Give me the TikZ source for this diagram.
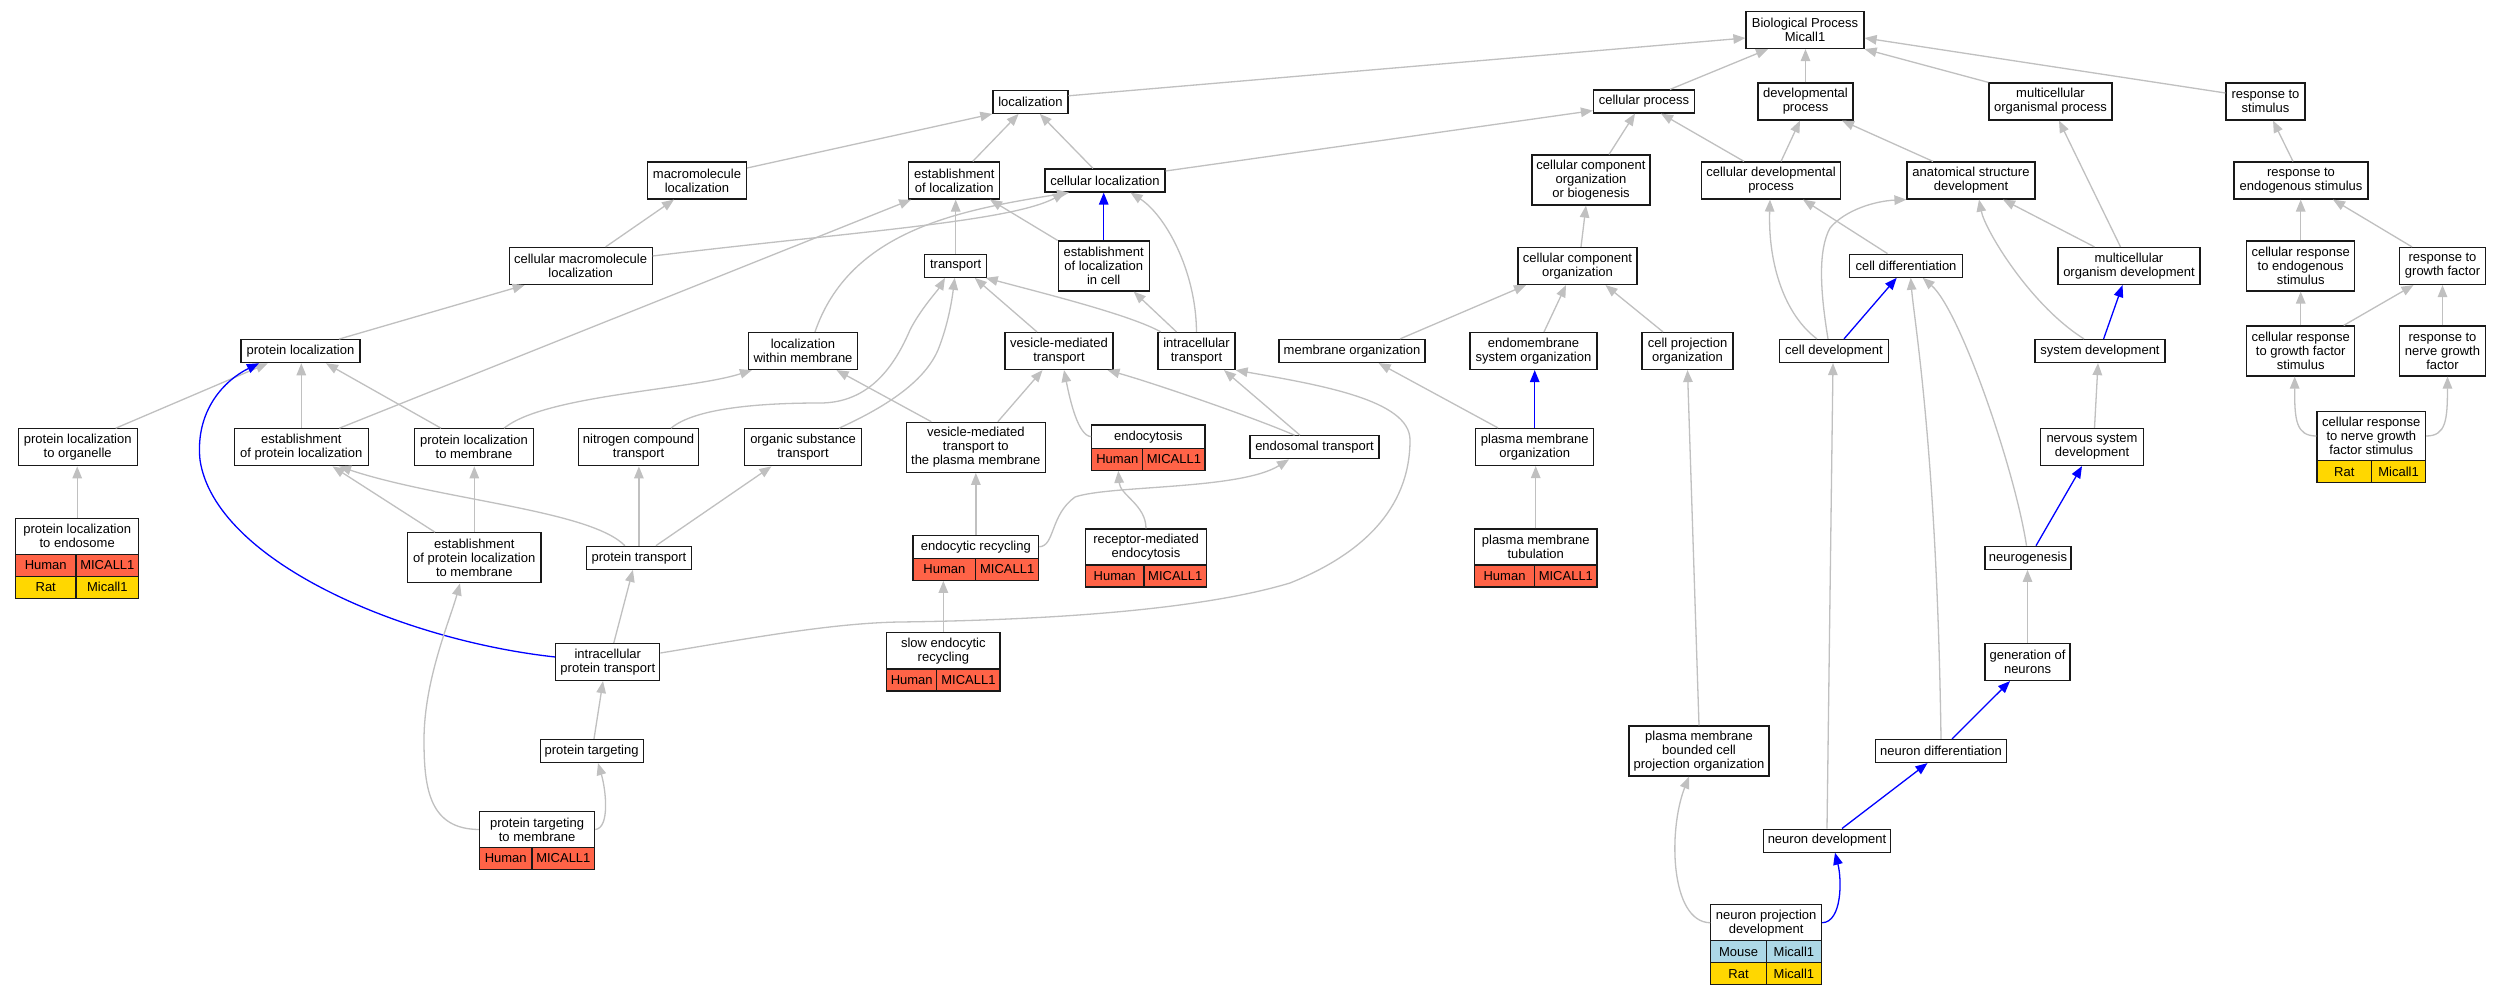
\documentclass[tikz,border=0pt]{standalone}
\usepackage{fontspec}
\setmainfont{Liberation Sans}
\usetikzlibrary{arrows.meta,calc}
\definecolor{edgegray}{RGB}{192,192,192}
\definecolor{tomatoc}{RGB}{255,99,71}
\definecolor{goldc}{RGB}{255,215,0}
\definecolor{lbluec}{RGB}{173,216,230}
\begin{document}
\begin{tikzpicture}[x=1pt,y=-1pt,
  box/.style={draw=black!90, line width=1.2pt, fill=white, inner sep=0pt, align=center, font=\fontsize{13}{14}\selectfont},
  hum/.style={box, fill=tomatoc, minimum height=22pt},
  ratc/.style={box, fill=goldc, minimum height=22pt},
  mouc/.style={box, fill=lbluec, minimum height=22pt},
  e/.style={draw=edgegray, line width=1.3pt, -{Triangle[length=12pt,width=9.5pt]}},
  be/.style={e, draw=blue},
]
\useasboundingbox (0,0) rectangle (2501,995);
\fill[white] (0,0) rectangle (2501,995);

% ---- plain nodes ----
\node[box, minimum width=118pt, minimum height=37pt] (bp) at (1805,30) {Biological Process\\Micall1};

\node[box, minimum width=75pt, minimum height=23pt] (loc) at (1030.4,101.8) {localization};
\node[box, minimum width=101pt, minimum height=23pt] (cp) at (1644,101.5) {cellular process};
\node[box, minimum width=95pt, minimum height=37pt] (dp) at (1805.5,101.5) {developmental\\process};
\node[box, minimum width=123pt, minimum height=37pt] (mop) at (2050.5,101.5) {multicellular\\organismal process};
\node[box, minimum width=79pt, minimum height=37pt] (rs) at (2265.5,101.5) {response to\\stimulus};

\node[box, minimum width=99pt, minimum height=37pt] (ml) at (697,180.5) {macromolecule\\localization};
\node[box, minimum width=91pt, minimum height=37pt] (eol) at (954.3,180.5) {establishment\\of localization};
\node[box, minimum width=120pt, minimum height=23pt] (cl) at (1105,180.5) {cellular localization};
\node[box, minimum width=118pt, minimum height=50pt] (ccob) at (1591,180) {cellular component\\organization\\or biogenesis};
\node[box, minimum width=139pt, minimum height=37pt] (cdp) at (1771,180.5) {cellular developmental\\process};
\node[box, minimum width=128pt, minimum height=37pt] (asd) at (1971,180.5) {anatomical structure\\development};
\node[box, minimum width=134pt, minimum height=37pt] (res) at (2301,180.5) {response to\\endogenous stimulus};

\node[box, minimum width=143pt, minimum height=37pt] (cml) at (580.6,266) {cellular macromolecule\\localization};
\node[box, minimum width=62pt, minimum height=23pt] (tr) at (955.7,265.8) {transport};
\node[box, minimum width=91pt, minimum height=50pt] (elc) at (1103.7,266) {establishment\\of localization\\in cell};
\node[box, minimum width=119pt, minimum height=37pt] (cco) at (1577.5,266) {cellular component\\organization};
\node[box, minimum width=113pt, minimum height=23pt] (cd) at (1906,265.7) {cell differentiation};
\node[box, minimum width=142pt, minimum height=37pt] (mod) at (2129,266) {multicellular\\organism development};
\node[box, minimum width=108pt, minimum height=50pt] (cres) at (2300.7,266) {cellular response\\to endogenous\\stimulus};
\node[box, minimum width=86pt, minimum height=37pt] (rgf) at (2442.5,266) {response to\\growth factor};

\node[box, minimum width=119pt, minimum height=23pt] (pl) at (300.5,351.2) {protein localization};
\node[box, minimum width=109pt, minimum height=37pt] (lwm) at (803,351) {localization\\within membrane};
\node[box, minimum width=108pt, minimum height=37pt] (vmt) at (1059,351) {vesicle-mediated\\transport};
\node[box, minimum width=77pt, minimum height=37pt] (it) at (1196.5,351) {intracellular\\transport};
\node[box, minimum width=146pt, minimum height=23pt] (mo) at (1352,351) {membrane organization};
\node[box, minimum width=127pt, minimum height=37pt] (eso) at (1533.5,351) {endomembrane\\system organization};
\node[box, minimum width=91pt, minimum height=37pt] (cpo) at (1687.5,351) {cell projection\\organization};
\node[box, minimum width=109pt, minimum height=23pt] (cdv) at (1834,351) {cell development};
\node[box, minimum width=130pt, minimum height=23pt] (sd) at (2100,351) {system development};
\node[box, minimum width=108pt, minimum height=50pt] (crgf) at (2300.7,351) {cellular response\\to growth factor\\stimulus};
\node[box, minimum width=86pt, minimum height=50pt] (rngf) at (2442.5,351) {response to\\nerve growth\\factor};

\node[box, minimum width=119pt, minimum height=37pt] (plo) at (77.7,447.3) {protein localization\\to organelle};
\node[box, minimum width=134pt, minimum height=37pt] (epl) at (301.3,447.3) {establishment\\of protein localization};
\node[box, minimum width=119pt, minimum height=37pt] (plm) at (474,447.3) {protein localization\\to membrane};
\node[box, minimum width=120pt, minimum height=37pt] (nct) at (638.6,447.3) {nitrogen compound\\transport};
\node[box, minimum width=116.5pt, minimum height=37pt] (ost) at (803,447.3) {organic substance\\transport};
\node[box, minimum width=139pt, minimum height=50pt] (vmtpm) at (975.8,447.3) {vesicle-mediated\\transport to\\the plasma membrane};
\node[box, minimum width=129pt, minimum height=23pt] (est) at (1314.5,447.3) {endosomal transport};
\node[box, minimum width=118pt, minimum height=37pt] (pmo) at (1534.7,447) {plasma membrane\\organization};
\node[box, minimum width=103pt, minimum height=37pt] (nsd) at (2092,447) {nervous system\\development};

\node[box, minimum width=133.5pt, minimum height=50pt] (eplm) at (474.3,557.8) {establishment\\of protein localization\\to membrane};
\node[box, minimum width=104.6pt, minimum height=23pt] (pt) at (638.9,557.8) {protein transport};
\node[box, minimum width=86pt, minimum height=23pt] (ng) at (2028,557.8) {neurogenesis};

\node[box, minimum width=104pt, minimum height=37pt] (ipt) at (607.8,662) {intracellular\\protein transport};
\node[box, minimum width=85pt, minimum height=37pt] (gon) at (2027.5,662) {generation of\\neurons};

\node[box, minimum width=103pt, minimum height=23pt] (ptg) at (591.6,751) {protein targeting};
\node[box, minimum width=140pt, minimum height=50pt] (pbcpo) at (1699,751) {plasma membrane\\bounded cell\\projection organization};
\node[box, minimum width=130.5pt, minimum height=23pt] (nd) at (1941,751) {neuron differentiation};

\node[box, minimum width=127pt, minimum height=23pt] (ndv) at (1827,840.6) {neuron development};

% ---- table nodes ----
\node[box, minimum width=123.2pt, minimum height=36pt] (ple) at (77.2,536.3) {protein localization\\to endosome};
\node[hum, minimum width=60.3pt] (pleA) at (45.75,565.3) {Human};
\node[hum, minimum width=62.9pt] (pleB) at (107.35,565.3) {MICALL1};
\node[ratc, minimum width=60.3pt] (pleC) at (45.75,587.3) {Rat};
\node[ratc, minimum width=62.9pt] (pleD) at (107.35,587.3) {Micall1};

\node[box, minimum width=113.2pt, minimum height=23.3pt] (endo) at (1148.4,436.65) {endocytosis};
\node[hum, minimum width=51pt] (endoA) at (1117.3,459.3) {Human};
\node[hum, minimum width=62.2pt] (endoB) at (1173.9,459.3) {MICALL1};

\node[box, minimum width=125.7pt, minimum height=23pt] (erc) at (975.85,546.8) {endocytic recycling};
\node[hum, minimum width=62.8pt] (ercA) at (944.4,569.3) {Human};
\node[hum, minimum width=62.9pt] (ercB) at (1007.25,569.3) {MICALL1};

\node[box, minimum width=121.4pt, minimum height=36pt] (rme) at (1146,547) {receptor-mediated\\endocytosis};
\node[hum, minimum width=58.6pt] (rmeA) at (1114.6,576) {Human};
\node[hum, minimum width=62.8pt] (rmeB) at (1175.3,576) {MICALL1};

\node[box, minimum width=122.6pt, minimum height=36pt] (pmt) at (1535.7,547) {plasma membrane\\tubulation};
\node[hum, minimum width=60.3pt] (pmtA) at (1504.55,576) {Human};
\node[hum, minimum width=62.3pt] (pmtB) at (1565.85,576) {MICALL1};

\node[box, minimum width=113.3pt, minimum height=36.3pt] (ser) at (943.35,650.85) {slow endocytic\\recycling};
\node[hum, minimum width=50.1pt] (serA) at (911.75,680) {Human};
\node[hum, minimum width=63.2pt] (serB) at (968.4,680) {MICALL1};

\node[box, minimum width=115.2pt, minimum height=35.6pt] (ptm) at (537.1,829.5) {protein targeting\\to membrane};
\node[hum, minimum width=52.5pt] (ptmA) at (505.75,858.3) {Human};
\node[hum, minimum width=62.7pt] (ptmB) at (563.35,858.3) {MICALL1};

\node[box, minimum width=110.8pt, minimum height=36.1pt] (npd) at (1766.2,922.75) {neuron projection\\development};
\node[mouc, minimum width=55.4pt] (npdA) at (1738.5,951.8) {Mouse};
\node[mouc, minimum width=55.4pt] (npdB) at (1793.9,951.8) {Micall1};
\node[ratc, minimum width=55.4pt] (npdC) at (1738.5,973.8) {Rat};
\node[ratc, minimum width=55.4pt] (npdD) at (1793.9,973.8) {Micall1};

\node[box, minimum width=108.6pt, minimum height=49.3pt] (crngf) at (2371.3,436) {cellular response\\to nerve growth\\factor stimulus};
\node[ratc, minimum width=54.6pt] (crngfA) at (2344.3,471.7) {Rat};
\node[ratc, minimum width=54pt] (crngfB) at (2398.6,471.7) {Micall1};

% ---- edges: top ----
\draw[e] ([yshift=6pt]loc.east) -- ([yshift=-8pt]bp.west);
\draw[e] ([xshift=26pt]cp.north) -- ([xshift=-37pt]bp.south);
\draw[e] (dp.north) -- (dp.north |- bp.south);
\draw[e] (mop.north west) -- (bp.south east);
\draw[e] ([yshift=8.5pt]rs.west) -- ([yshift=-8pt]bp.east);
\draw[e] ([yshift=12.5pt]ml.east) -- (loc.south west);
\draw[e] ([xshift=18.4pt]eol.north) -- ([xshift=-11.8pt]loc.south);
\draw[e] ([xshift=-12pt]cl.north) -- ([xshift=9.4pt]loc.south);
\draw[e] ([yshift=9.5pt]cl.east) -- ([yshift=3pt]cp.south west);
\draw[e] ([xshift=18pt]ccob.north) -- ([xshift=-9pt]cp.south);
\draw[e] ([xshift=-27pt]cdp.north) -- ([xshift=17pt]cp.south);
\draw[e] ([xshift=10pt]cdp.north) -- ([xshift=-5.5pt]dp.south);
\draw[e] ([xshift=-38pt]asd.north) -- ([xshift=36.5pt]dp.south);
\draw[e] ([xshift=-8.5pt]mod.north) -- ([xshift=8.5pt]mop.south);
\draw[e] ([xshift=-8pt]res.north) -- ([xshift=7.5pt]rs.south);
\draw[e] ([xshift=25pt]cml.north) -- ([xshift=-23pt]ml.south);
\draw[e] ([yshift=10pt]cml.east) .. controls (850,232) and (1010,222) .. ([xshift=-40pt]cl.south);
\draw[e] ([xshift=38pt]epl.north) -- ([xshift=3pt]eol.south west);
\draw[e] (tr.north) -- (tr.north |- eol.south);
\draw[e] (elc.north west) -- ([xshift=35.7pt]eol.south);
\draw[be] (elc.north) -- (elc.north |- cl.south);
\draw[e] (it.north) .. controls (1196,270) and (1165,215) .. ([xshift=25.5pt]cl.south);
\draw[e] ([xshift=-20pt]it.north) -- ([xshift=30pt]elc.south);
\draw[e] ([xshift=3.5pt]it.north west) .. controls (1130,315) and (1050,295) .. ([xshift=30pt]tr.south);
\draw[e] ([xshift=-22pt]vmt.north) -- ([xshift=19pt]tr.south);
\draw[e] ([xshift=32.4pt]nct.north) .. controls (695,408) and (760,403) .. (820,403) .. controls (870,403) and (895,365) .. (910,330) .. controls (920,310) and (938,290) .. ([xshift=-10.7pt]tr.south);
\draw[e] ([xshift=36pt]ost.north) .. controls (890,405) and (925,380) .. (938,350) .. controls (948,325) and (952,300) .. ([xshift=-1pt]tr.south);
\draw[e] ([xshift=12pt]lwm.north) .. controls (850,230) and (960,210) .. ([xshift=-36pt]cl.south);
\draw[e] ([xshift=3.5pt]cco.north) -- ([xshift=-5pt]ccob.south);
\draw[e] ([xshift=-18.5pt]cd.north) -- ([xshift=32pt]cdp.south);
\draw[e] ([xshift=-17pt]cdv.north) .. controls (1785,315) and (1768,265) .. ([xshift=-1pt]cdp.south);
\draw[e] ([xshift=-6pt]cdv.north) .. controls (1820,290) and (1818,250) .. (1830,228) .. controls (1845,210) and (1875,201) .. (asd.south west);
\draw[be] ([xshift=10pt]cdv.north) -- ([xshift=-9.3pt]cd.south);
\draw[e] ([xshift=-34.5pt]mod.north) -- ([xshift=32pt]asd.south);
\draw[e] ([xshift=-16pt]sd.north) .. controls (2030,305) and (1985,230) .. ([xshift=8pt]asd.south);
\draw[be] ([xshift=3.6pt]sd.north) -- ([xshift=-6.5pt]mod.south);
\draw[e] (cres.north) -- (cres.north |- res.south);
\draw[e] ([xshift=-30.5pt]rgf.north) -- ([xshift=32pt]res.south);
\draw[e] (crgf.north) -- (crgf.north |- cres.south);
\draw[e] ([xshift=43pt]crgf.north) -- ([xshift=-29pt]rgf.south);
\draw[e] (rngf.north) -- (rngf.north |- rgf.south);
\draw[e] (crngf.west) .. controls (2296,436) and (2294.5,420) .. ([xshift=-6pt]crgf.south);
\draw[e] (crngf.east) .. controls (2446,436) and (2447.4,420) .. ([xshift=5pt]rngf.south);
\draw[e] ([xshift=48pt]mo.north) -- ([xshift=-51.5pt]cco.south);
\draw[e] ([xshift=10.5pt]eso.north) -- ([xshift=-11.5pt]cco.south);
\draw[e] ([xshift=-24.5pt]cpo.north) -- ([xshift=28pt]cco.south);
\draw[e] ([xshift=-36.7pt]pmo.north) -- ([xshift=26.6pt]mo.south);
\draw[be] (pmo.north) -- (pmo.north |- eso.south);
\draw[e] (pmt.north) -- (pmt.north |- pmo.south);
\draw[e] (pbcpo.north) -- (cpo.south);
\draw[e] (ndv.north) -- ([xshift=-1pt]cdv.south);
\draw[e] (nd.north) .. controls (1937,450) and (1914,320) .. ([xshift=4.7pt]cd.south);
\draw[e] ([xshift=-1.5pt]ng.north) .. controls (2015,470) and (1960,310) .. ([xshift=16.6pt]cd.south);
\draw[be] ([xshift=8pt]ng.north) -- ([xshift=-10pt]nsd.south);
\draw[e] ([xshift=2.5pt]nsd.north) -- ([xshift=-2pt]sd.south);
\draw[e] (gon.north) -- (gon.north |- ng.south);
\draw[be] ([xshift=11pt]nd.north) -- ([xshift=-17.5pt]gon.south);
\draw[be] ([xshift=15pt]ndv.north) -- ([xshift=-13.5pt]nd.south);
\draw[be] (npd.east) .. controls (1842,922) and (1842,880) .. ([xshift=8pt]ndv.south);
\draw[e] (npd.west) .. controls (1670,922) and (1668,830) .. ([xshift=-10pt]pbcpo.south);

% ---- edges: left ----
\draw[e] ([xshift=38.5pt]pl.north) -- ([xshift=-56pt]cml.south);
\draw[e] ([xshift=38pt]plo.north) -- ([xshift=-32.7pt]pl.south);
\draw[e] (epl.north) -- (epl.north |- pl.south);
\draw[e] ([xshift=-33pt]plm.north) -- ([xshift=25.5pt]pl.south);
\draw[be] ([yshift=5pt]ipt.west) .. controls (400,640) and (215,560) .. (200,460) .. controls (195,410) and (225,380) .. ([xshift=-41.5pt]pl.south);
\draw[e] (ple.north) -- (ple.north |- plo.south);
\draw[e] ([xshift=-39.3pt]eplm.north) -- ([xshift=31.3pt]epl.south);
\draw[e] (eplm.north) -- (eplm.north |- plm.south);
\draw[e] ([xshift=-14pt]pt.north) .. controls (590,510) and (440,500) .. ([xshift=37.7pt]epl.south);
\draw[e] (pt.north) -- (pt.north |- nct.south);
\draw[e] ([xshift=17pt]pt.north) -- ([xshift=-31.6pt]ost.south);
\draw[e] ([xshift=6pt]ipt.north) -- ([xshift=-6pt]pt.south);
\draw[e] ([yshift=9pt]ipt.east) .. controls (740,640) and (830,623) .. (900,622) .. controls (1050,620) and (1200,610) .. (1290,583) .. controls (1360,555) and (1410,510) .. (1410,440) .. controls (1410,400) and (1320,385) .. (it.south east);
\draw[e] ([xshift=-14.5pt]est.north) -- ([xshift=27.5pt]it.south);
\draw[e] ([xshift=-20pt]est.north) .. controls (1260,420) and (1160,385) .. ([xshift=48.5pt]vmt.south);
\draw[e] (endo.west) .. controls (1078,436) and (1070,400) .. ([xshift=5pt]vmt.south);
\draw[e] ([xshift=22pt]vmtpm.north) -- ([xshift=-16.5pt]vmt.south);
\draw[e] ([xshift=-44.5pt]vmtpm.north) -- ([xshift=33.5pt]lwm.south);
\draw[e] (erc.north) -- (erc.north |- vmtpm.south);
\draw[e] (erc.east) .. controls (1055,546) and (1050,515) .. (1075,497) .. controls (1110,485) and (1240,490) .. ([xshift=-25.5pt]est.south);
\draw[e] (rme.north) .. controls (1146,505) and (1120,495) .. ([xshift=1pt]endoA.south);
\draw[e] (ser.north) -- (ser.north |- ercA.south);
\draw[e] ([xshift=2.4pt]ptg.north) -- ([xshift=-4.8pt]ipt.south);
\draw[e] (ptm.east) .. controls (610,828) and (606,790) .. ([xshift=6.4pt]ptg.south);
\draw[e] (ptm.west) .. controls (430,829) and (424,790) .. (424,740) .. controls (424,680) and (450,620) .. ([xshift=-14.3pt]eplm.south);
\draw[e] ([xshift=30pt]plm.north) .. controls (545,395) and (690,390) .. ([xshift=4pt]lwm.south west);
\end{tikzpicture}
\end{document}
